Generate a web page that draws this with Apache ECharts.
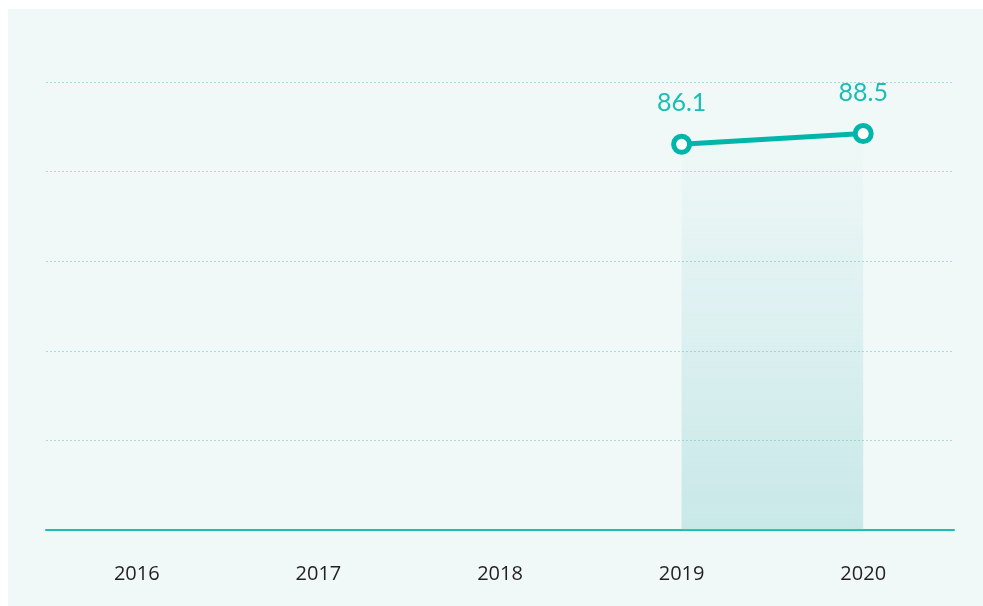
<!DOCTYPE html>
<html><head><meta charset="utf-8">
<script src="https://cdn.jsdelivr.net/npm/echarts@6/dist/echarts.min.js"></script>
<style>
html,body{margin:0;padding:0;background:#fff;}
#wrap{position:absolute;left:8px;top:9px;width:975px;height:597px;background:#f1f9f8;}
#chart{width:975px;height:597px;}
</style></head>
<body><div id="wrap"><div id="chart"></div></div>
<script>
var categories = ['2016','2017','2018','2019','2020'];
var values = [null, null, null, 86.1, 88.5];
var yTicks = [0, 20, 40, 60, 80, 100];

var chart = echarts.init(document.getElementById('chart'), null, {renderer:'canvas'});
chart.setOption({
  animation:false,
  grid:{left:38, right:29, top:73, bottom:76},
  xAxis:{
    type:'category', data:categories, boundaryGap:true,
    axisLine:{lineStyle:{color:'#19bfb7', width:2}},
    axisTick:{show:false},
    axisLabel:{color:'#231f20', fontSize:20, fontFamily:'Open Sans', margin:34}
  },
  yAxis:{
    type:'value', min:yTicks[0], max:yTicks[yTicks.length-1], interval:20,
    axisLine:{show:false}, axisTick:{show:false}, axisLabel:{show:false},
    splitLine:{lineStyle:{color:'#a9d9dc', type:[2,2], width:1}}
  },
  series:[{
    type:'line', data:values, connectNulls:false,
    symbol:'circle', symbolSize:16,
    lineStyle:{color:'#00b6aa', width:5},
    itemStyle:{color:'#ffffff', borderColor:'#00b6aa', borderWidth:5},
    label:{show:true, position:'top', distance:18, color:'#1abdb3', fontSize:25, fontFamily:'Lato'},
    areaStyle:{
      color:new echarts.graphic.LinearGradient(0,0,0,1,[
        {offset:0, color:'rgba(110,195,198,0.02)'},
        {offset:1, color:'rgba(110,195,198,0.44)'}
      ])
    }
  }]
});
</script></body></html>
